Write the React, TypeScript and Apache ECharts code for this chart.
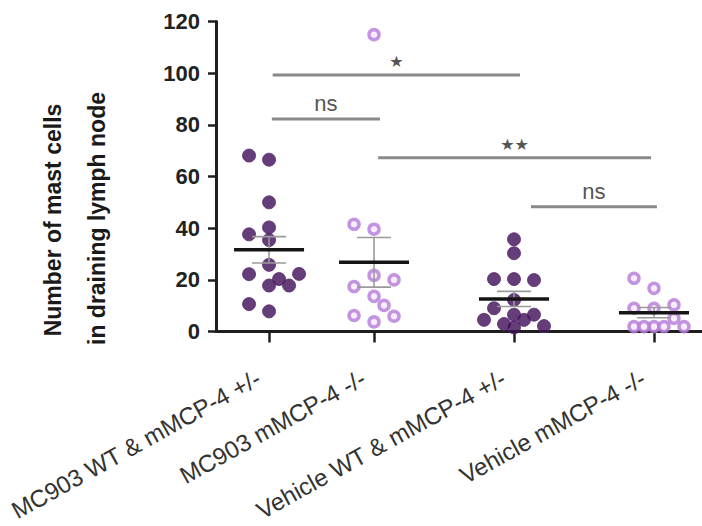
import React, { useEffect, useRef } from "react";
import * as echarts from "echarts";

const categories = [
  "MC903 WT & mMCP-4 +/-",
  "MC903 mMCP-4 -/-",
  "Vehicle WT & mMCP-4 +/-",
  "Vehicle mMCP-4 -/-",
];
// position of each group along the x axis (groups are not evenly spaced)
const groupPos = [1, 1.75, 2.75, 3.75];

const mc903Het = [66.5, 68.1, 50, 35.4, 37.6, 40.3, 25.8, 22.2, 17.8, 17.8, 20.3, 22.3, 7.8, 10.6];
const mc903Ko = [114.9, 39.6, 41.5, 21.7, 17.4, 20, 13.6, 3.7, 6.2, 5.9, 10.1];
const vehicleHet = [30.3, 35.7, 20.3, 20.3, 19.9, 12.2, 9.0, 6.5, 6.5, 4.5, 4.5, 2.9, 2.1, 1.6];
const vehicleKo = [16.7, 20.6, 9.0, 9.0, 10.3, 5.1, 1.9, 1.9, 1.9, 1.9, 1.9];

const yTicks = [0, 20, 40, 60, 80, 100, 120];

const compFrom = [1.026, 1.02, 1.779, 2.871];
const compTo = [2.793, 1.793, 3.729, 3.771];
const compY = [99.3, 82.3, 67.3, 48.3];
const compLabel = ["★", "ns", "★★", "ns"];

const groups = [mc903Het, mc903Ko, vehicleHet, vehicleKo];
const filled = [true, false, true, false];

const PX_PER_UNIT = 310 / 120;
const SLOTS = [0, -20, 20, 10, -10, 30, -30];
const MIN_DIST = 12;

function swarm(values: number[]): number[] {
  const placed: { x: number; y: number }[] = [];
  return values.map((v) => {
    const y = v * PX_PER_UNIT;
    let best = 0;
    let bestD = -1;
    for (const s of SLOTS) {
      const d = placed.reduce((m, p) => Math.min(m, Math.hypot(p.x - s, p.y - y)), Infinity);
      if (d >= MIN_DIST) {
        best = s;
        break;
      }
      if (d > bestD) {
        bestD = d;
        best = s;
      }
    }
    placed.push({ x: best, y });
    return best;
  });
}

function meanSem(values: number[]) {
  const n = values.length;
  const m = values.reduce((a, b) => a + b, 0) / n;
  const sd = Math.sqrt(values.reduce((a, b) => a + (b - m) * (b - m), 0) / (n - 1));
  return { m, sem: sd / Math.sqrt(n) };
}

export default function App() {
  const ref = useRef<HTMLDivElement>(null);
  useEffect(() => {
    if (!ref.current) return;
    const chart = echarts.init(ref.current, undefined, { renderer: "svg" });

    const scatterSeries = groups.map((vals, gi) => {
      const offs = swarm(vals);
      return {
        type: "scatter",
        z: 2,
        symbol: "circle",
        symbolSize: filled[gi] ? 13 : 10,
        itemStyle: filled[gi]
          ? { color: "#3e0c56", borderColor: "#5a2a72", borderWidth: 1 }
          : { color: "#f5e9fc", borderColor: "#b57ad8", borderWidth: 3.5 },
        data: vals.map((v, i) => ({ value: [groupPos[gi], v], symbolOffset: [offs[i], 0] })),
      };
    });

    const stats = groups.map((vals, gi) => {
      const { m, sem } = meanSem(vals);
      return [groupPos[gi], m, m - sem, m + sem];
    });

    const option: any = {
      animation: false,
      grid: { left: 216, right: 0, top: 21.5, bottom: 194.5, outerBoundsMode: "none" },
      xAxis: {
        type: "value",
        min: 0.621,
        max: 4.093,
        axisLine: { show: true, onZero: false, lineStyle: { color: "#1e1e1e", width: 3 } },
        axisTick: {
          show: true,
          customValues: groupPos,
          length: 11,
          lineStyle: { color: "#1e1e1e", width: 2.5 },
        },
        axisLabel: {
          customValues: groupPos,
          rotate: 29,
          margin: 39,
          padding: [0, 12, 0, 0],
          fontSize: 24,
          color: "#333",
          fontFamily: "Liberation Sans, Arial, sans-serif",
          formatter: (val: number) => {
            const idx = groupPos.findIndex((p) => Math.abs(p - val) < 1e-6);
            return idx >= 0 ? categories[idx] : "";
          },
        },
        splitLine: { show: false },
      },
      yAxis: {
        type: "value",
        min: 0,
        max: 120,
        interval: 20,
        axisLine: { show: true, lineStyle: { color: "#1e1e1e", width: 3 } },
        axisTick: { show: true, length: 8, lineStyle: { color: "#1e1e1e", width: 2.5 } },
        axisLabel: {
          margin: 16,
          fontSize: 22,
          fontWeight: "bold",
          color: "#222",
          fontFamily: "Liberation Sans, Arial, sans-serif",
          formatter: (v: number) => (yTicks.includes(v) ? String(v) : ""),
        },
        splitLine: { show: false },
      },
      graphic: [
        {
          type: "text",
          x: 52.5,
          y: 220,
          rotation: Math.PI / 2,
          style: {
            text: "Number of mast cells",
            font: "bold 23px Liberation Sans, Arial, sans-serif",
            fill: "#1a1a1a",
            textAlign: "center",
            textVerticalAlign: "middle",
            align: "center",
            verticalAlign: "middle",
          },
        },
        {
          type: "text",
          x: 96.5,
          y: 218.5,
          rotation: Math.PI / 2,
          style: {
            text: "in draining lymph node",
            font: "bold 23px Liberation Sans, Arial, sans-serif",
            fill: "#1a1a1a",
            textAlign: "center",
            textVerticalAlign: "middle",
            align: "center",
            verticalAlign: "middle",
          },
        },
      ],
      series: [
        ...scatterSeries,
        {
          type: "custom",
          z: 5,
          data: stats,
          dimensions: ["x", "mean", "lo", "hi"],
          encode: { x: 0, y: [1, 2, 3] },
          renderItem: (params: any, api: any) => {
            const x = api.value(0);
            const pm = api.coord([x, api.value(1)]);
            const pl = api.coord([x, api.value(2)]);
            const ph = api.coord([x, api.value(3)]);
            const errStyle = { stroke: "#9a9a9a", lineWidth: 1.6 };
            return {
              type: "group",
              children: [
                { type: "line", shape: { x1: pm[0], y1: pl[1], x2: pm[0], y2: ph[1] }, style: errStyle },
                { type: "line", shape: { x1: pm[0] - 17, y1: pl[1], x2: pm[0] + 17, y2: pl[1] }, style: errStyle },
                { type: "line", shape: { x1: pm[0] - 17, y1: ph[1], x2: pm[0] + 17, y2: ph[1] }, style: errStyle },
                {
                  type: "line",
                  shape: { x1: pm[0] - 35, y1: pm[1], x2: pm[0] + 35, y2: pm[1] },
                  style: { stroke: "#151515", lineWidth: 3.5 },
                },
              ],
            };
          },
        },
        {
          type: "custom",
          z: 5,
          data: compY.map((y, i) => [compFrom[i], compTo[i], y]),
          dimensions: ["from", "to", "y"],
          encode: { x: [0, 1], y: 2 },
          renderItem: (params: any, api: any) => {
            const i = params.dataIndex;
            const p1 = api.coord([api.value(0), api.value(2)]);
            const p2 = api.coord([api.value(1), api.value(2)]);
            const isStar = compLabel[i].indexOf("★") >= 0;
            return {
              type: "group",
              children: [
                {
                  type: "line",
                  shape: { x1: p1[0], y1: p1[1], x2: p2[0], y2: p2[1] },
                  style: { stroke: "#8a8a8a", lineWidth: 3 },
                },
                {
                  type: "text",
                  x: (p1[0] + p2[0]) / 2,
                  y: isStar ? p1[1] - 13 : p1[1] - 4,
                  style: {
                    text: compLabel[i],
                    fill: "#555",
                    font: isStar ? "16px DejaVu Sans" : "22px Liberation Sans, Arial, sans-serif",
                    align: "center",
                    verticalAlign: isStar ? "middle" : "bottom",
                  },
                },
              ],
            };
          },
        },
      ],
    };
    chart.setOption(option);
    return () => chart.dispose();
  }, []);
  return <div ref={ref} style={{ width: 702, height: 526, position: "absolute", left: 0, top: 0 }} />;
}
